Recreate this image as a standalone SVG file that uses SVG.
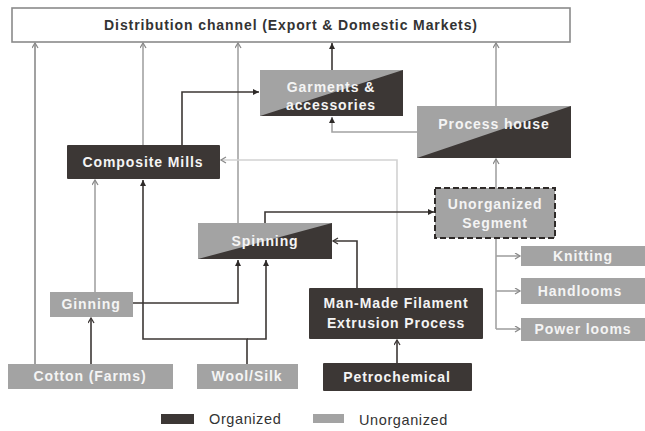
<svg xmlns="http://www.w3.org/2000/svg" width="645" height="431" viewBox="0 0 645 431">
  <style>
    .dk { fill: #3c3735; }
    .gr { fill: #a3a3a3; }
    .lbl { font-family: "Liberation Sans", Arial, sans-serif; font-size: 14px; font-weight: bold; letter-spacing: 0.9px; fill: #f4f4f4; text-anchor: middle; }
    .title { font-family: "Liberation Sans", Arial, sans-serif; font-size: 14px; font-weight: bold; letter-spacing: 0.9px; fill: #333; text-anchor: middle; }
    .leg { font-family: "Liberation Sans", Arial, sans-serif; font-size: 14.5px; letter-spacing: 0.6px; fill: #333; }
    .c { fill: none; stroke-width: 1.6; }
    .cg { stroke: #a3a3a3; }
    .cl { stroke: #d2d2d2; }
    .cd { stroke: #3c3735; }
    .cm { stroke: #8a8a8a; }
  </style>
  <defs>
    <marker id="openG" markerUnits="userSpaceOnUse" markerWidth="8" markerHeight="8" refX="6" refY="3.5" orient="auto">
      <path d="M1,0.5 L6,3.5 L1,6.5" fill="none" stroke="#8a8a8a" stroke-width="1.3"/>
    </marker>
    <marker id="openD" markerUnits="userSpaceOnUse" markerWidth="8" markerHeight="8" refX="6" refY="3.5" orient="auto">
      <path d="M1,0.5 L6,3.5 L1,6.5" fill="none" stroke="#3c3735" stroke-width="1.3"/>
    </marker>
    <marker id="fillD" markerUnits="userSpaceOnUse" markerWidth="8" markerHeight="8" refX="6" refY="3" orient="auto">
      <path d="M0,0 L6,3 L0,6 z" fill="#2e2a28"/>
    </marker>
  </defs>

  <g id="connectors">
    <path class="c cm" d="M35,364 V43" marker-end="url(#openG)"/>
    <path class="c cg" d="M143,145 V43" marker-end="url(#openG)"/>
    <path class="c cg" d="M238,223 V43" marker-end="url(#openG)"/>
    <path class="c cd" d="M332,70 V43" marker-end="url(#fillD)"/>
    <path class="c cg" d="M496,106 V43" marker-end="url(#openG)"/>
    <path class="c cd" d="M182,145 V92 H259" marker-end="url(#fillD)"/>
    <path class="c cg" d="M417,132 H332 V117" marker-end="url(#fillD)"/>
    <path class="c cl" d="M397,288 V160 H221" marker-end="url(#openG)"/>
    <path class="c cd" d="M357,288 V241 H333" marker-end="url(#openD)"/>
    <path class="c cd" d="M265,223 V212 H434" marker-end="url(#fillD)"/>
    <path class="c cg" d="M496,188 V159" marker-end="url(#openG)"/>
    <path class="c cg" d="M496,238 V329"/>
    <path class="c cg" d="M496,256 H520" marker-end="url(#openG)"/>
    <path class="c cg" d="M496,291 H520" marker-end="url(#openG)"/>
    <path class="c cg" d="M496,329 H520" marker-end="url(#openG)"/>
    <path class="c cg" d="M95,292 V180" marker-end="url(#openG)"/>
    <path class="c cd" d="M133,303 H238 V260" marker-end="url(#fillD)"/>
    <path class="c cd" d="M91,364 V318" marker-end="url(#openD)"/>
    <path class="c cd" d="M247,364 V339 H143 V180" marker-end="url(#fillD)"/>
    <path class="c cd" d="M247,339 H266 V260" marker-end="url(#fillD)"/>
    <path class="c cd" d="M397,363 V340" marker-end="url(#openD)"/>
  </g>

  <g id="distribution">
    <rect x="12" y="8" width="558" height="34" fill="#fff" stroke="#8a8a8a" stroke-width="1.6"/>
    <text class="title" x="291" y="30">Distribution channel (Export &amp; Domestic Markets)</text>
  </g>

  <g id="garments">
    <rect class="gr" x="260" y="70" width="143" height="46"/>
    <polygon class="dk" points="260,116 403,70 403,116"/>
    <text class="lbl" x="331" y="92">Garments &amp;</text>
    <text class="lbl" x="331" y="110">accessories</text>
  </g>

  <g id="process-house">
    <rect class="gr" x="417" y="106" width="154" height="52"/>
    <polygon class="dk" points="417,158 571,106 571,158"/>
    <text class="lbl" x="494" y="129">Process house</text>
  </g>

  <g id="composite-mills">
    <rect class="dk" x="67" y="145" width="153" height="34" rx="1"/>
    <text class="lbl" x="143" y="167">Composite Mills</text>
  </g>

  <g id="spinning">
    <rect class="gr" x="198" y="223" width="134" height="36"/>
    <polygon class="dk" points="198,259 332,223 332,259"/>
    <text class="lbl" x="265" y="246">Spinning</text>
  </g>

  <g id="unorganized-segment">
    <rect x="435" y="188" width="120" height="50" fill="#a3a3a3" stroke="#2e2a28" stroke-width="2" stroke-dasharray="6,3"/>
    <text class="lbl" x="495" y="209">Unorganized</text>
    <text class="lbl" x="495" y="228">Segment</text>
  </g>

  <g id="knitting">
    <rect class="gr" x="521" y="246" width="124" height="20"/>
    <text class="lbl" x="583" y="261">Knitting</text>
  </g>

  <g id="handlooms">
    <rect class="gr" x="521" y="278" width="124" height="26"/>
    <text class="lbl" x="580" y="296">Handlooms</text>
  </g>

  <g id="power-looms">
    <rect class="gr" x="521" y="318" width="124" height="23"/>
    <text class="lbl" x="583" y="334">Power looms</text>
  </g>

  <g id="man-made-filament">
    <rect class="dk" x="309" y="288" width="174" height="51" rx="1"/>
    <text class="lbl" x="396" y="308">Man-Made Filament</text>
    <text class="lbl" x="396" y="328">Extrusion Process</text>
  </g>

  <g id="ginning">
    <rect class="gr" x="50" y="292" width="83" height="25"/>
    <text class="lbl" x="91" y="309">Ginning</text>
  </g>

  <g id="cotton">
    <rect class="gr" x="8" y="364" width="165" height="25"/>
    <text class="lbl" x="90" y="381">Cotton (Farms)</text>
  </g>

  <g id="wool-silk">
    <rect class="gr" x="197" y="364" width="101" height="25"/>
    <text class="lbl" x="247" y="381">Wool/Silk</text>
  </g>

  <g id="petrochemical">
    <rect class="dk" x="323" y="363" width="149" height="28" rx="1"/>
    <text class="lbl" x="397" y="382">Petrochemical</text>
  </g>

  <g id="legend">
    <rect class="dk" x="161" y="414" width="33" height="10"/>
    <text class="leg" x="209" y="424">Organized</text>
    <rect class="gr" x="313" y="414" width="31" height="9"/>
    <text class="leg" x="359" y="425">Unorganized</text>
  </g>
</svg>
